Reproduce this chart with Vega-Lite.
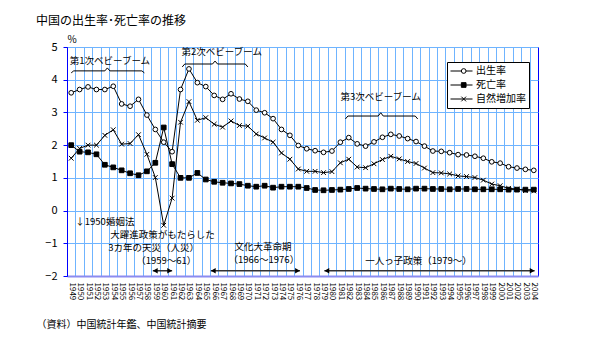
{
  "$schema": "https://vega.github.io/schema/vega-lite/v6.json",
  "width": 471,
  "height": 229,
  "autosize": {"type": "none"},
  "padding": {"left": 67, "top": 47, "right": 76, "bottom": 68},
  "background": "white",
  "config": {
    "font": "Noto Sans CJK JP",
    "view": {"stroke": "#0000ff", "strokeWidth": 1},
    "axis": {"labelFont": "Noto Sans CJK JP", "titleFont": "Noto Sans CJK JP", "labelColor": "black", "titleColor": "black"},
    "legend": {"labelFont": "Noto Sans CJK JP"}
  },
  "title": {
    "text": "中国の出生率･死亡率の推移",
    "anchor": "start",
    "frame": "group",
    "orient": "top",
    "dx": -31,
    "offset": 6,
    "fontSize": 12,
    "fontWeight": "normal",
    "font": "Noto Sans CJK JP",
    "color": "black"
  },
  "datasets": {
    "rates": [
      {"year":1949,"出生率":3.60,"死亡率":2.00,"自然増加率":1.60},
      {"year":1950,"出生率":3.70,"死亡率":1.80,"自然増加率":1.90},
      {"year":1951,"出生率":3.78,"死亡率":1.78,"自然増加率":2.00},
      {"year":1952,"出生率":3.70,"死亡率":1.72,"自然増加率":2.00},
      {"year":1953,"出生率":3.70,"死亡率":1.40,"自然増加率":2.30},
      {"year":1954,"出生率":3.80,"死亡率":1.32,"自然増加率":2.47},
      {"year":1955,"出生率":3.26,"死亡率":1.23,"自然増加率":2.03},
      {"year":1956,"出生率":3.19,"死亡率":1.14,"自然増加率":2.05},
      {"year":1957,"出生率":3.40,"死亡率":1.08,"自然増加率":2.32},
      {"year":1958,"出生率":2.92,"死亡率":1.20,"自然増加率":1.72},
      {"year":1959,"出生率":2.48,"死亡率":1.46,"自然増加率":1.01},
      {"year":1960,"出生率":2.09,"死亡率":2.54,"自然増加率":-0.45},
      {"year":1961,"出生率":1.80,"死亡率":1.42,"自然増加率":0.38},
      {"year":1962,"出生率":3.70,"死亡率":1.00,"自然増加率":2.70},
      {"year":1963,"出生率":4.33,"死亡率":1.00,"自然増加率":3.33},
      {"year":1964,"出生率":3.91,"死亡率":1.15,"自然増加率":2.76},
      {"year":1965,"出生率":3.79,"死亡率":0.95,"自然増加率":2.84},
      {"year":1966,"出生率":3.52,"死亡率":0.88,"自然増加率":2.64},
      {"year":1967,"出生率":3.40,"死亡率":0.85,"自然増加率":2.55},
      {"year":1968,"出生率":3.57,"死亡率":0.83,"自然増加率":2.74},
      {"year":1969,"出生率":3.41,"死亡率":0.81,"自然増加率":2.60},
      {"year":1970,"出生率":3.34,"死亡率":0.76,"自然増加率":2.58},
      {"year":1971,"出生率":3.07,"死亡率":0.73,"自然増加率":2.34},
      {"year":1972,"出生率":2.99,"死亡率":0.76,"自然増加率":2.22},
      {"year":1973,"出生率":2.81,"死亡率":0.70,"自然増加率":2.09},
      {"year":1974,"出生率":2.48,"死亡率":0.73,"自然増加率":1.76},
      {"year":1975,"出生率":2.30,"死亡率":0.73,"自然増加率":1.57},
      {"year":1976,"出生率":1.99,"死亡率":0.73,"自然増加率":1.27},
      {"year":1977,"出生率":1.89,"死亡率":0.69,"自然増加率":1.20},
      {"year":1978,"出生率":1.83,"死亡率":0.63,"自然増加率":1.20},
      {"year":1979,"出生率":1.78,"死亡率":0.62,"自然増加率":1.16},
      {"year":1980,"出生率":1.82,"死亡率":0.63,"自然増加率":1.19},
      {"year":1981,"出生率":2.09,"死亡率":0.64,"自然増加率":1.46},
      {"year":1982,"出生率":2.23,"死亡率":0.66,"自然増加率":1.57},
      {"year":1983,"出生率":2.04,"死亡率":0.69,"自然増加率":1.33},
      {"year":1984,"出生率":1.97,"死亡率":0.67,"自然増加率":1.31},
      {"year":1985,"出生率":2.10,"死亡率":0.66,"自然増加率":1.43},
      {"year":1986,"出生率":2.24,"死亡率":0.65,"自然増加率":1.56},
      {"year":1987,"出生率":2.33,"死亡率":0.67,"自然増加率":1.66},
      {"year":1988,"出生率":2.28,"死亡率":0.66,"自然増加率":1.58},
      {"year":1989,"出生率":2.20,"死亡率":0.65,"自然増加率":1.50},
      {"year":1990,"出生率":2.11,"死亡率":0.67,"自然増加率":1.44},
      {"year":1991,"出生率":1.97,"死亡率":0.67,"自然増加率":1.30},
      {"year":1992,"出生率":1.82,"死亡率":0.66,"自然増加率":1.16},
      {"year":1993,"出生率":1.81,"死亡率":0.66,"自然増加率":1.15},
      {"year":1994,"出生率":1.77,"死亡率":0.65,"自然増加率":1.12},
      {"year":1995,"出生率":1.71,"死亡率":0.66,"自然増加率":1.06},
      {"year":1996,"出生率":1.70,"死亡率":0.66,"自然増加率":1.04},
      {"year":1997,"出生率":1.66,"死亡率":0.65,"自然増加率":1.01},
      {"year":1998,"出生率":1.60,"死亡率":0.65,"自然増加率":0.93},
      {"year":1999,"出生率":1.49,"死亡率":0.65,"自然増加率":0.81},
      {"year":2000,"出生率":1.45,"死亡率":0.65,"自然増加率":0.76},
      {"year":2001,"出生率":1.34,"死亡率":0.64,"自然増加率":0.68},
      {"year":2002,"出生率":1.30,"死亡率":0.64,"自然増加率":0.66},
      {"year":2003,"出生率":1.26,"死亡率":0.64,"自然増加率":0.61},
      {"year":2004,"出生率":1.23,"死亡率":0.64,"自然増加率":0.60}
    ],
    "braces": [
      {"id":1,"year":1949.0,"value":4.21},{"id":1,"year":1949.3,"value":4.27},{"id":1,"year":1953.0,"value":4.27},{"id":1,"year":1953.3,"value":4.36},{"id":1,"year":1953.6,"value":4.27},{"id":1,"year":1957.4,"value":4.27},{"id":1,"year":1957.7,"value":4.21},
      {"id":2,"year":1962.2,"value":4.39},{"id":2,"year":1962.5,"value":4.48},{"id":2,"year":1965.8,"value":4.48},{"id":2,"year":1966.1,"value":4.57},{"id":2,"year":1966.4,"value":4.48},{"id":2,"year":1969.7,"value":4.48},{"id":2,"year":1970.0,"value":4.39},
      {"id":3,"year":1981.6,"value":2.80},{"id":3,"year":1981.9,"value":2.89},{"id":3,"year":1985.5,"value":2.89},{"id":3,"year":1985.8,"value":2.99},{"id":3,"year":1986.1,"value":2.89},{"id":3,"year":1989.9,"value":2.89},{"id":3,"year":1990.2,"value":2.80}
    ],
    "notes": [
      {"year":1953.6,"value":4.57,"text":"第1次ベビーブーム"},
      {"year":1966.9,"value":4.85,"text":"第2次ベビーブーム"},
      {"year":1985.8,"value":3.47,"text":"第3次ベビーブーム"},
      {"year":1953.0,"value":-0.35,"text":"↓1950婚姻法"},
      {"year":1959.85,"value":-0.75,"text":"大躍進政策がもたらした"},
      {"year":1958.8,"value":-1.14,"text":"3カ年の天災（人災）"},
      {"year":1960.3,"value":-1.54,"text":"（1959～61）"},
      {"year":1971.8,"value":-1.12,"text":"文化大革命期"},
      {"year":1971.9,"value":-1.52,"text":"（1966～1976）"},
      {"year":1990.3,"value":-1.53,"text":"一人っ子政策（1979～）"}
    ],
    "arrows": [
      {"year":1958.7,"year2":1961.0,"value":-1.84},
      {"year":1965.6,"year2":1976.2,"value":-1.84},
      {"year":1979.1,"year2":2004.1,"value":-1.84}
    ]
  },
  "encoding": {
    "x": {
      "field": "year",
      "type": "quantitative",
      "scale": {"domain": [1948.5, 2004.5], "nice": false, "zero": false},
      "axis": {
        "title": "（資料）中国統計年鑑、中国統計摘要",
        "titleX": -31,
        "titleY": 48,
        "titleAlign": "left",
        "titleAnchor": "start",
        "titleBaseline": "middle",
        "titleFontSize": 10,
        "titleFontWeight": "normal",
        "tickCount": 56,
        "format": "d",
        "tickOffset": -4.2,
        "labelOffset": 4.2,
        "labelAngle": 90,
        "labelAlign": "left",
        "labelBaseline": "middle",
        "labelFontSize": 8,
        "labelPadding": 6,
        "labelOverlap": false,
        "labelFlush": false,
        "ticks": false,
        "grid": true,
        "gridColor": "#6fb4ff",
        "gridOpacity": 1,
        "domainColor": "#8c8cf0",
        "domainWidth": 2
      }
    },
    "y": {
      "field": "value",
      "type": "quantitative",
      "scale": {"domain": [-2, 5], "nice": false},
      "axis": {
        "title": "%",
        "titleAngle": 0,
        "titleX": 4.5,
        "titleY": -8,
        "titleAlign": "center",
        "titleBaseline": "middle",
        "titleFontSize": 10,
        "titleFontWeight": "normal",
        "tickCount": 7,
        "grid": true,
        "gridColor": "#6fb4ff",
        "gridWidth": 1,
        "gridOpacity": 1,
        "domainColor": "#0000ff",
        "tickColor": "#0000ff",
        "tickSize": 4,
        "labelPadding": 6,
        "labelFontSize": 11
      }
    }
  },
  "layer": [
    {
      "data": {"values": [{}]},
      "mark": {"type": "rule", "color": "#0000ff", "strokeWidth": 1.5},
      "encoding": {
        "x": {"datum": 1948.5, "type": "quantitative"},
        "x2": {"datum": 2004.5},
        "y": {"datum": 0, "type": "quantitative"}
      }
    },
    {
      "data": {"name": "rates"},
      "transform": [{"fold": ["出生率", "死亡率", "自然増加率"], "as": ["系列", "value"]}],
      "mark": {"type": "line", "strokeWidth": 1},
      "encoding": {
        "color": {
          "field": "系列",
          "type": "nominal",
          "scale": {"range": ["black", "black", "black"]},
          "legend": {
            "title": null,
            "orient": "none",
            "legendX": 380,
            "legendY": 15,
            "strokeColor": "black",
            "fillColor": "white",
            "padding": 3,
            "symbolType": "stroke",
            "symbolSize": 484,
            "symbolStrokeWidth": 1,
            "symbolStrokeColor": "black",
            "symbolOffset": 0,
            "labelOffset": 3,
            "labelFontSize": 10,
            "labelColor": "black",
            "clipHeight": 12,
            "rowPadding": 2
          }
        }
      }
    },
    {
      "data": {"name": "rates"},
      "transform": [{"fold": ["出生率", "死亡率", "自然増加率"], "as": ["series", "value"]}],
      "mark": {"type": "point", "filled": true, "size": 22, "stroke": "black", "strokeWidth": 1, "opacity": 1},
      "encoding": {
        "shape": {
          "field": "series",
          "type": "nominal",
          "scale": {"domain": ["出生率", "死亡率", "自然増加率"], "range": ["circle", "square", "M-1,-1L1,1M-1,1L1,-1"]},
          "legend": {
            "title": null,
            "orient": "none",
            "legendX": 380,
            "legendY": 15,
            "strokeColor": "transparent",
            "fillColor": "transparent",
            "padding": 3,
            "symbolSize": 22,
            "symbolStrokeWidth": 1,
            "symbolOffset": 8.7,
            "labelOffset": 3,
            "labelFontSize": 10,
            "labelExpr": "''",
            "clipHeight": 12,
            "rowPadding": 2
          }
        },
        "fill": {
          "field": "series",
          "type": "nominal",
          "scale": {"domain": ["出生率", "死亡率", "自然増加率"], "range": ["white", "black", "black"]},
          "legend": {
            "title": null,
            "orient": "none",
            "legendX": 380,
            "legendY": 15,
            "strokeColor": "transparent",
            "fillColor": "transparent",
            "padding": 3,
            "symbolSize": 22,
            "symbolStrokeWidth": 1,
            "symbolOffset": 8.7,
            "labelOffset": 3,
            "labelFontSize": 10,
            "labelExpr": "''",
            "clipHeight": 12,
            "rowPadding": 2
          }
        }
      }
    },
    {
      "data": {"name": "braces"},
      "mark": {"type": "line", "color": "black", "strokeWidth": 1},
      "encoding": {"detail": {"field": "id"}}
    },
    {
      "data": {"name": "notes"},
      "mark": {"type": "text", "fontSize": 9.5, "align": "center", "baseline": "middle", "color": "black", "font": "Noto Sans CJK JP"},
      "encoding": {"text": {"field": "text"}}
    },
    {
      "data": {"name": "arrows"},
      "mark": {"type": "rule", "color": "#333333", "strokeWidth": 1.5},
      "encoding": {"x2": {"field": "year2"}}
    },
    {
      "data": {"name": "arrows"},
      "mark": {"type": "point", "shape": "triangle-left", "filled": true, "color": "black", "size": 30, "opacity": 1, "xOffset": 2.5},
      "encoding": {}
    },
    {
      "data": {"name": "arrows"},
      "mark": {"type": "point", "shape": "triangle-right", "filled": true, "color": "black", "size": 30, "opacity": 1, "xOffset": -2.5},
      "encoding": {"x": {"field": "year2", "type": "quantitative", "title": "（資料）中国統計年鑑、中国統計摘要"}}
    }
  ]
}
